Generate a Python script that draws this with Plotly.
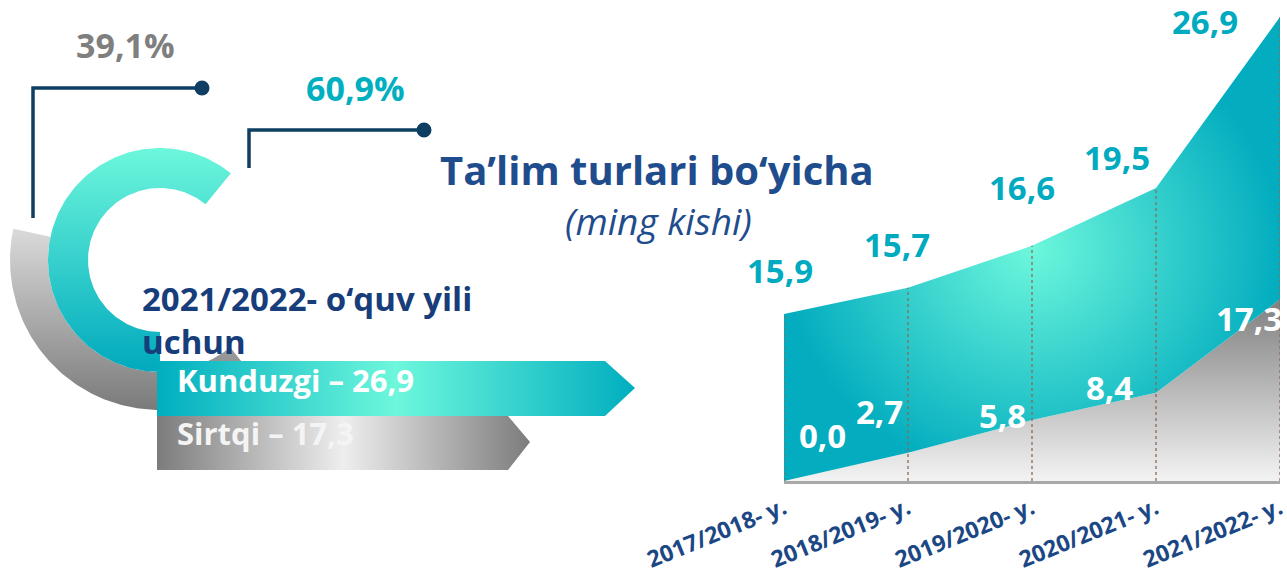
import math
import plotly.graph_objects as go

# ---------------- data ----------------
years = ["2017/2018- y.", "2018/2019- y.", "2019/2020- y.", "2020/2021- y.", "2021/2022- y."]
kunduzgi = [15.9, 15.7, 16.6, 19.5, 26.9]   # full-time (ming kishi)
sirtqi = [0.0, 2.7, 5.8, 8.4, 17.3]         # part-time (ming kishi)
share_names = ["Kunduzgi", "Sirtqi"]
share_pct = [60.9, 39.1]
title_text = "Ta’lim turlari bo‘yicha"
subtitle_text = "(ming kishi)"
year_caption = ["2021/2022- o‘quv yili", "uchun"]

totals = [k + s for k, s in zip(kunduzgi, sirtqi)]


def fmt(v):
    return f"{v:.1f}".replace(".", ",")


FONT = "Open Sans"
TEAL = "#00AEBF"
MINT = "#6DF7DC"
NAVY = "#1B4785"
LEADER = "#0E3F63"

W, H = 1287, 584

fig = go.Figure()

# ---------------- decorative donut (canvas axes x/y in pixels) ----------------
CX, CY = 160, 260


def ring(r0, r1, start, sweep, n=160):
    xs, ys = [], []
    for i in range(n + 1):
        a = math.radians(start + sweep * i / n)
        xs.append(CX + r1 * math.cos(a)); ys.append(CY + r1 * math.sin(a))
    for i in range(n, -1, -1):
        a = math.radians(start + sweep * i / n)
        xs.append(CX + r0 * math.cos(a)); ys.append(CY + r0 * math.sin(a))
    xs.append(xs[0]); ys.append(ys[0])
    return xs, ys


# gray ring (Sirtqi share), ends at upper left
g_sweep = share_pct[1] * 3.6
gx, gy = ring(112, 150, 192 - g_sweep, g_sweep)
fig.add_trace(go.Scatter(x=gx, y=gy, fill="toself", mode="lines", line=dict(width=0),
                         fillgradient=dict(type="vertical",
                                           colorscale=[[0, "#7A7A7A"], [1, "#DADADA"]]),
                         hoverinfo="skip", showlegend=False, xaxis="x", yaxis="y"))
# teal ring (Kunduzgi share), starts at bottom
t_sweep = share_pct[0] * 3.6
tx, ty = ring(72, 112, 90, t_sweep)
fig.add_trace(go.Scatter(x=tx, y=ty, fill="toself", mode="lines", line=dict(width=0),
                         fillgradient=dict(type="vertical",
                                           colorscale=[[0, "#00A9BD"], [1, MINT]]),
                         hoverinfo="skip", showlegend=False, xaxis="x", yaxis="y"))

# banners
fig.add_trace(go.Scatter(x=[157, 605, 635, 605, 157, 157], y=[361, 361, 388, 416, 416, 361],
                         fill="toself", mode="lines", line=dict(width=0),
                         fillgradient=dict(type="horizontal",
                                           colorscale=[[0, TEAL], [0.5, MINT], [1, TEAL]]),
                         hoverinfo="skip", showlegend=False, xaxis="x", yaxis="y"))
fig.add_trace(go.Scatter(x=[157, 508, 530, 508, 157, 157], y=[416, 416, 442, 470, 470, 416],
                         fill="toself", mode="lines", line=dict(width=0),
                         fillgradient=dict(type="horizontal",
                                           colorscale=[[0, "#7C7C7C"], [0.5, "#EEEEEE"], [1, "#7C7C7C"]]),
                         hoverinfo="skip", showlegend=False, xaxis="x", yaxis="y"))

# ---------------- area chart (x2/y2) ----------------
xs = list(range(len(years)))
fig.add_trace(go.Scatter(x=xs, y=sirtqi, mode="lines", line=dict(width=0), fill="tozeroy",
                         fillgradient=dict(type="vertical", start=0, stop=max(sirtqi),
                                           colorscale=[[0, "#F3F3F3"], [1, "#7F7F7F"]]),
                         hoverinfo="skip", showlegend=False, xaxis="x2", yaxis="y2"))
fig.add_trace(go.Scatter(x=xs, y=totals, mode="lines", line=dict(width=0), fill="tonexty",
                         fillgradient=dict(type="radial",
                                           colorscale=[[0, MINT], [1, "#03ADBF"]]),
                         hoverinfo="skip", showlegend=False, xaxis="x2", yaxis="y2"))
# dotted verticals
vx, vy = [], []
for i, t in enumerate(totals):
    vx += [i, i, None]
    vy += [0, t, None]
fig.add_trace(go.Scatter(x=vx, y=vy, mode="lines", line=dict(color="#8C6A55", width=1.3, dash="dot"),
                         hoverinfo="skip", showlegend=False, xaxis="x2", yaxis="y2"))

annotations = []
# value labels
k_off = [(-4, 44), (-11, 43), (-10, 58), (-39, 31), (-75, -5)]
s_off = [(38, 46), (-29, 41), (-30, 5), (-47, 5), (-31, -19)]
for i in xs:
    annotations.append(dict(x=i, y=totals[i], xref="x2", yref="y2", text=fmt(kunduzgi[i]),
                            showarrow=False, xshift=k_off[i][0], yshift=k_off[i][1],
                            font=dict(family=FONT, size=33, color="#00AABF", weight="bold")))
    annotations.append(dict(x=i, y=sirtqi[i], xref="x2", yref="y2", text=fmt(sirtqi[i]),
                            showarrow=False, xshift=s_off[i][0], yshift=s_off[i][1],
                            font=dict(family=FONT, size=33, color="white", weight="bold")))


# texts on canvas
def txt(x, y, s, size, color, anchor="center", weight="bold", style="normal"):
    annotations.append(dict(x=x, y=y, xref="x", yref="y", text=s, showarrow=False,
                            xanchor=anchor, yanchor="middle", align=anchor if anchor != "center" else "center",
                            font=dict(family=FONT, size=size, color=color, weight=weight, style=style)))


txt(125, 45, fmt(share_pct[1]) + "%", 34, "#7F7F7F")
txt(355, 88, fmt(share_pct[0]) + "%", 34, "#00AFC0")
txt(657, 169, title_text, 40, "#1F4C8C")
txt(658, 220, subtitle_text, 37, "#1F4C8C", weight="normal", style="italic")
txt(140, 320, "<br>".join(year_caption), 33, "#173D7A", anchor="left")
txt(175, 380, f"{share_names[0]} – {fmt(kunduzgi[-1])}", 31, "white", anchor="left")
txt(175, 433, f"{share_names[1]} – {fmt(sirtqi[-1])}", 31, "#F4F4F4", anchor="left")

shapes = []
for pts in ([(33, 218), (33, 88), (202, 88)], [(249, 168), (249, 130), (424, 130)]):
    path = "M " + " L ".join(f"{px},{py}" for px, py in pts)
    shapes.append(dict(type="path", path=path, xref="x", yref="y",
                       line=dict(color=LEADER, width=3.5)))
    ex, ey = pts[-1]
    shapes.append(dict(type="circle", xref="x", yref="y", x0=ex - 7.5, x1=ex + 7.5,
                       y0=ey - 7.5, y1=ey + 7.5, fillcolor=LEADER, line=dict(width=0)))

fig.update_layout(
    width=W, height=H, margin=dict(l=0, r=0, t=0, b=0),
    paper_bgcolor="white", plot_bgcolor="rgba(0,0,0,0)",
    showlegend=False,
    xaxis=dict(domain=[0, 1], range=[0, W], visible=False, fixedrange=True),
    yaxis=dict(domain=[0, 1], range=[H, 0], visible=False, fixedrange=True),
    xaxis2=dict(domain=[784 / W, 1280 / W], range=[0, len(years) - 1], anchor="y2",
                showgrid=False, zeroline=False, showline=True, linecolor="#A8A8A8", linewidth=3,
                tickmode="array", tickvals=xs, ticktext=years, tickangle=-22, ticks="",
                ticklabelstandoff=2, ticklabeloverflow="allow", automargin=False,
                tickfont=dict(family=FONT, size=23, color=NAVY, weight="bold")),
    yaxis2=dict(domain=[(H - 481) / H, (H - 8.5) / H], range=[0, 45], anchor="x2",
                visible=False, automargin=False),
    annotations=annotations, shapes=shapes,
)

fig.write_html("out.html", config={"displayModeBar": False},
               post_script="document.body.style.margin='0';")
